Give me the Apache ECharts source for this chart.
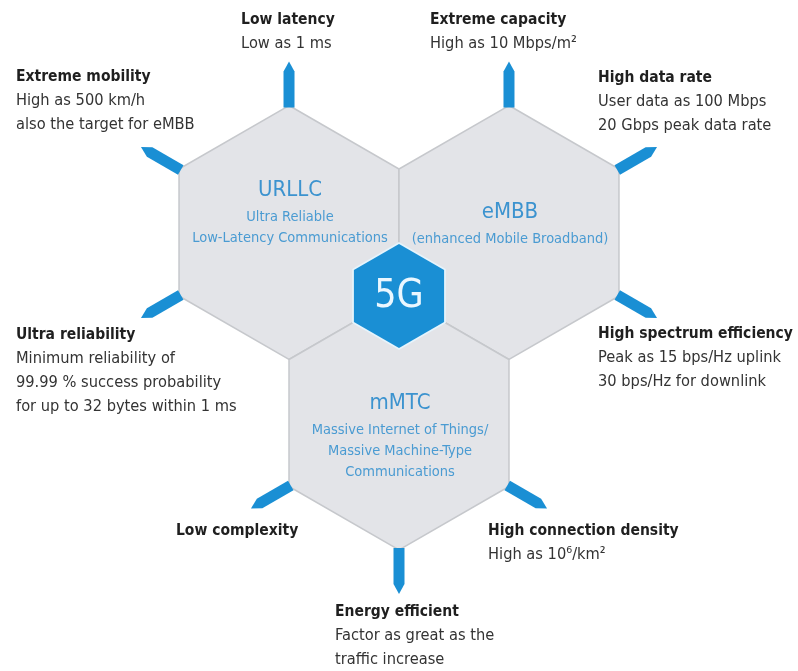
<!DOCTYPE html>
<html><head><meta charset="utf-8">
<script src="https://cdn.jsdelivr.net/npm/echarts@6/dist/echarts.min.js"></script>
<style>html,body{margin:0;padding:0;background:#fff}#c{width:798px;height:671px}</style>
</head><body><div id="c"></div>
<script>
// ---- data ----
const hexNames = ['URLLC', 'eMBB', 'mMTC'];
const hexSubtitles = [
  ['Ultra Reliable', 'Low-Latency Communications'],
  ['(enhanced Mobile Broadband)'],
  ['Massive Internet of Things/', 'Massive Machine-Type', 'Communications']
];
// hex centres in units of the hex radius, the shared corner at the origin
const hexX = [-Math.sqrt(3) / 2, Math.sqrt(3) / 2, 0];
const hexY = [-0.5, -0.5, 1];
const coreLabel = '5G';
const featureTitles = ['Low latency', 'Extreme capacity', 'Extreme mobility', 'High data rate',
  'Ultra reliability', 'High spectrum efficiency', 'Low complexity', 'High connection density', 'Energy efficient'];
const featureLines = [
  ['Low as 1 ms'],
  ['High as 10 Mbps/m²'],
  ['High as 500 km/h', 'also the target for eMBB'],
  ['User data as 100 Mbps', '20 Gbps peak data rate'],
  ['Minimum reliability of', '99.99 % success probability', 'for up to 32 bytes within 1 ms'],
  ['Peak as 15 bps/Hz uplink', '30 bps/Hz for downlink'],
  [],
  ['High as 10⁶/km²'],
  ['Factor as great as the', 'traffic increase']
];
const featureHex = [0, 1, 0, 1, 0, 1, 2, 2, 2];
const featureVertexAngle = [-90, -90, 210, -30, 150, 30, 150, 30, 90];

// ---- layout / style ----
const W = 798, H = 671, R_PX = 127, J = [399, 296];
const CORE_R = 0.41;
const labelOffset = [[-48, -41.5], [-79, -41.5], [-125, -70], [-59, -69], [-125, 17], [-59, 16], [-75, 22.5], [-59, 22.5], [-64, 18]];
const hexTitleOffset = [-42, -20, -20];
const FONT = "'DejaVu Sans Condensed', 'Liberation Sans Narrow', sans-serif";
const BLUE = '#1a8fd4';

function hexPoints(c, r) {
  const pts = [];
  for (let k = 0; k < 6; k++) {
    const a = (-90 + 60 * k) * Math.PI / 180;
    pts.push([c[0] + r * Math.cos(a), c[1] + r * Math.sin(a)]);
  }
  return pts;
}
function txt(x, y, s, size, weight, fill, align) {
  return { type: 'text', x: x, y: y, silent: true,
    style: { text: s, fontSize: size, fontWeight: weight, fontFamily: FONT, fill: fill,
      align: align, verticalAlign: 'middle', textAlign: align, textVerticalAlign: 'middle' } };
}

const chart = echarts.init(document.getElementById('c'), null, { renderer: 'canvas' });
chart.setOption({
  animation: false,
  backgroundColor: '#ffffff',
  grid: { left: 0, right: 0, top: 0, bottom: 0 },
  xAxis: { type: 'value', min: -J[0] / R_PX, max: (W - J[0]) / R_PX, show: false },
  yAxis: { type: 'value', inverse: true, min: -J[1] / R_PX, max: (H - J[1]) / R_PX, show: false },
  series: [
    {
      type: 'custom', coordinateSystem: 'cartesian2d', z: 1,
      data: hexNames.map((n, i) => [hexX[i], hexY[i], i]),
      renderItem: function (params, api) {
        const i = api.value(2);
        const c = api.coord([api.value(0), api.value(1)]);
        const r = api.size([1, 0])[0];
        const ch = [{ type: 'polygon', shape: { points: hexPoints(c, r) },
          style: { fill: '#e3e4e8', stroke: '#c6c8cc', lineWidth: 1.5 } }];
        const ty = c[1] + hexTitleOffset[i];
        ch.push(txt(c[0] + 1, ty, hexNames[i], 22, 'normal', '#3c93cf', 'center'));
        hexSubtitles[i].forEach((s, k) => {
          ch.push(txt(c[0] + 1, ty + 27 + 21 * k, s, 14.5, 'normal', '#4a9bd2', 'center'));
        });
        return { type: 'group', children: ch };
      }
    },
    {
      type: 'custom', coordinateSystem: 'cartesian2d', z: 3,
      data: [[0, 0]],
      renderItem: function (params, api) {
        const c = api.coord([api.value(0), api.value(1)]);
        const r = api.size([CORE_R, 0])[0];
        return { type: 'group', children: [
          { type: 'polygon', shape: { points: hexPoints(c, r + 2) }, style: { fill: '#e6f4fc' } },
          { type: 'polygon', shape: { points: hexPoints(c, r) }, style: { fill: BLUE } },
          txt(c[0], c[1] + 1, coreLabel, 39, 'normal', '#eaf7ff', 'center')
        ] };
      }
    },
    {
      type: 'custom', coordinateSystem: 'cartesian2d', z: 2,
      data: featureTitles.map((t, i) => [hexX[featureHex[i]], hexY[featureHex[i]], i]),
      renderItem: function (params, api) {
        const i = api.value(2);
        const c = api.coord([api.value(0), api.value(1)]);
        const r = api.size([1, 0])[0];
        const a = featureVertexAngle[i] * Math.PI / 180;
        const d = [Math.cos(a), Math.sin(a)], n = [-d[1], d[0]];
        const v = [c[0] + r * d[0], c[1] + r * d[1]];
        const L = 0.346 * r, w = 11, head = 10;
        const P = (s, t) => [v[0] + d[0] * s + n[0] * t, v[1] + d[1] * s + n[1] * t];
        const arrow = { type: 'polygon',
          shape: { points: [P(-2, w / 2), P(L - head, w / 2), P(L, 0), P(L - head, -w / 2), P(-2, -w / 2)] },
          style: { fill: BLUE } };
        const tip = P(L, 0);
        const x0 = tip[0] + labelOffset[i][0], y0 = tip[1] + labelOffset[i][1];
        const ch = [arrow, txt(x0, y0, featureTitles[i], 15.5, 'bold', '#1f1f1f', 'left')];
        featureLines[i].forEach((s, k) => {
          ch.push(txt(x0, y0 + 24 * (k + 1), s, 16.3, 'normal', '#333333', 'left'));
        });
        return { type: 'group', children: ch };
      }
    }
  ]
});
</script>
</body></html>
